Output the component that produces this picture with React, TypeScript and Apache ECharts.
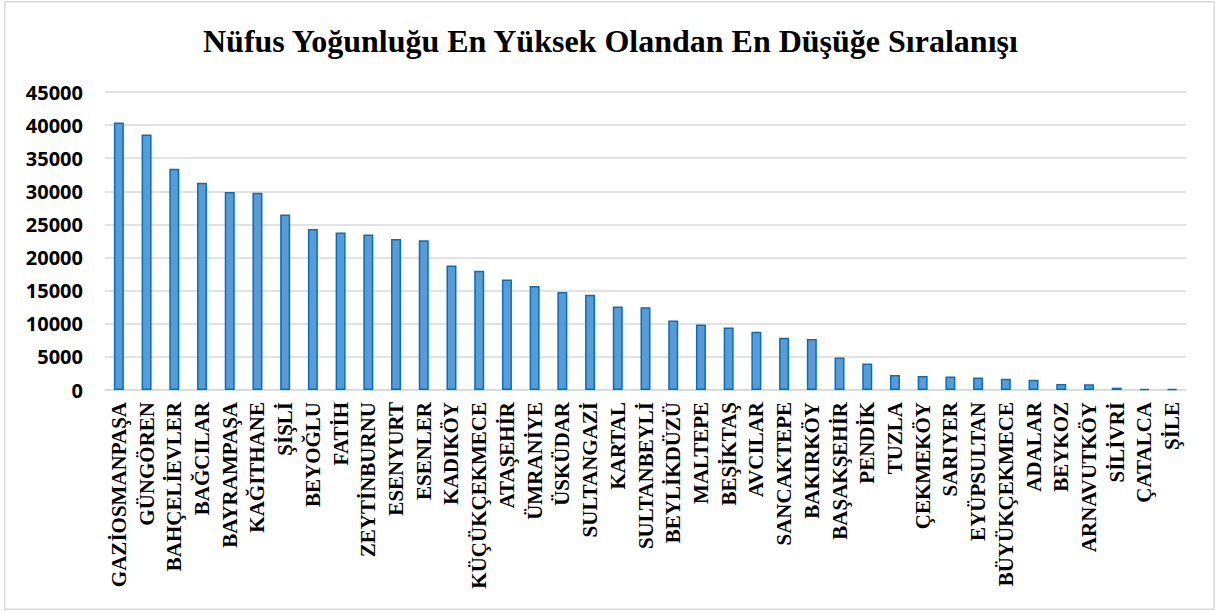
import React, { useEffect, useRef } from "react";
import * as echarts from "echarts";

const categories = [
  "GAZİOSMANPAŞA", "GÜNGÖREN", "BAHÇELİEVLER", "BAĞCILAR", "BAYRAMPAŞA", "KAĞITHANE",
  "ŞİŞLİ", "BEYOĞLU", "FATİH", "ZEYTİNBURNU", "ESENYURT", "ESENLER", "KADIKÖY",
  "KÜÇÜKÇEKMECE", "ATAŞEHİR", "ÜMRANİYE", "ÜSKÜDAR", "SULTANGAZİ", "KARTAL",
  "SULTANBEYLİ", "BEYLİKDÜZÜ", "MALTEPE", "BEŞİKTAŞ", "AVCILAR", "SANCAKTEPE",
  "BAKIRKÖY", "BAŞAKŞEHİR", "PENDİK", "TUZLA", "ÇEKMEKÖY", "SARIYER", "EYÜPSULTAN",
  "BÜYÜKÇEKMECE", "ADALAR", "BEYKOZ", "ARNAVUTKÖY", "SİLİVRİ", "ÇATALCA", "ŞİLE",
];

const density = [
  40400, 38600, 33400, 31300, 29900, 29800,
  26500, 24300, 23800, 23500, 22800, 22600, 18800,
  18000, 16700, 15700, 14800, 14400, 12600,
  12500, 10500, 9900, 9450, 8800, 7900,
  7700, 4900, 4000, 2250, 2100, 2050, 1900,
  1700, 1550, 900, 850, 350, 150, 120,
];

const yTicks = { min: 0, max: 45000, interval: 5000 };

const titleText = "Nüfus Yoğunluğu En Yüksek Olandan En Düşüğe Sıralanışı";

export default function App() {
  const ref = useRef<HTMLDivElement>(null);

  useEffect(() => {
    if (!ref.current) return;
    const chart = echarts.init(ref.current, undefined, { renderer: "svg" });
    chart.setOption({
      animation: false,
      backgroundColor: "#ffffff",
      title: {
        text: titleText,
        left: 203,
        top: 24.5,
        padding: 0,
        textStyle: {
          fontFamily: "Liberation Serif",
          fontWeight: "bold",
          fontSize: 32,
          color: "#000000",
        },
      },
      graphic: [
        {
          type: "rect",
          shape: { x: 4.75, y: 1.75, width: 1209.5, height: 607.5 },
          style: { fill: "none", stroke: "#d9d9d9", lineWidth: 1.5 },
          silent: true,
        },
      ],
      grid: { left: 105, right: 29, top: 92, bottom: 222, containLabel: false },
      xAxis: {
        type: "category",
        data: categories,
        axisLine: { show: true, lineStyle: { color: "#d9d9d9", width: 1.5 } },
        axisTick: { show: false },
        axisLabel: {
          interval: 0,
          rotate: 90,
          margin: 12,
          fontFamily: "Liberation Serif",
          fontWeight: "bold",
          fontSize: 21,
          color: "#000000",
        },
      },
      yAxis: {
        type: "value",
        min: yTicks.min,
        max: yTicks.max,
        interval: yTicks.interval,
        axisLine: { show: false },
        axisTick: { show: false },
        splitLine: { lineStyle: { color: "#d9d9d9", width: 1.5 } },
        axisLabel: {
          margin: 22,
          formatter: (v: number) => String(v),
          fontFamily: "Noto Sans",
          fontWeight: "bold",
          fontSize: 20,
          color: "#000000",
        },
      },
      series: [
        {
          type: "bar",
          data: density,
          barWidth: 10,
          itemStyle: {
            color: "#5b9bd5",
            borderColor: "#0070c0",
            borderWidth: 1.5,
          },
        },
      ],
    });
    return () => chart.dispose();
  }, []);

  return (
    <div
      ref={ref}
      style={{ position: "fixed", left: 0, top: 0, width: 1215, height: 612 }}
    />
  );
}
